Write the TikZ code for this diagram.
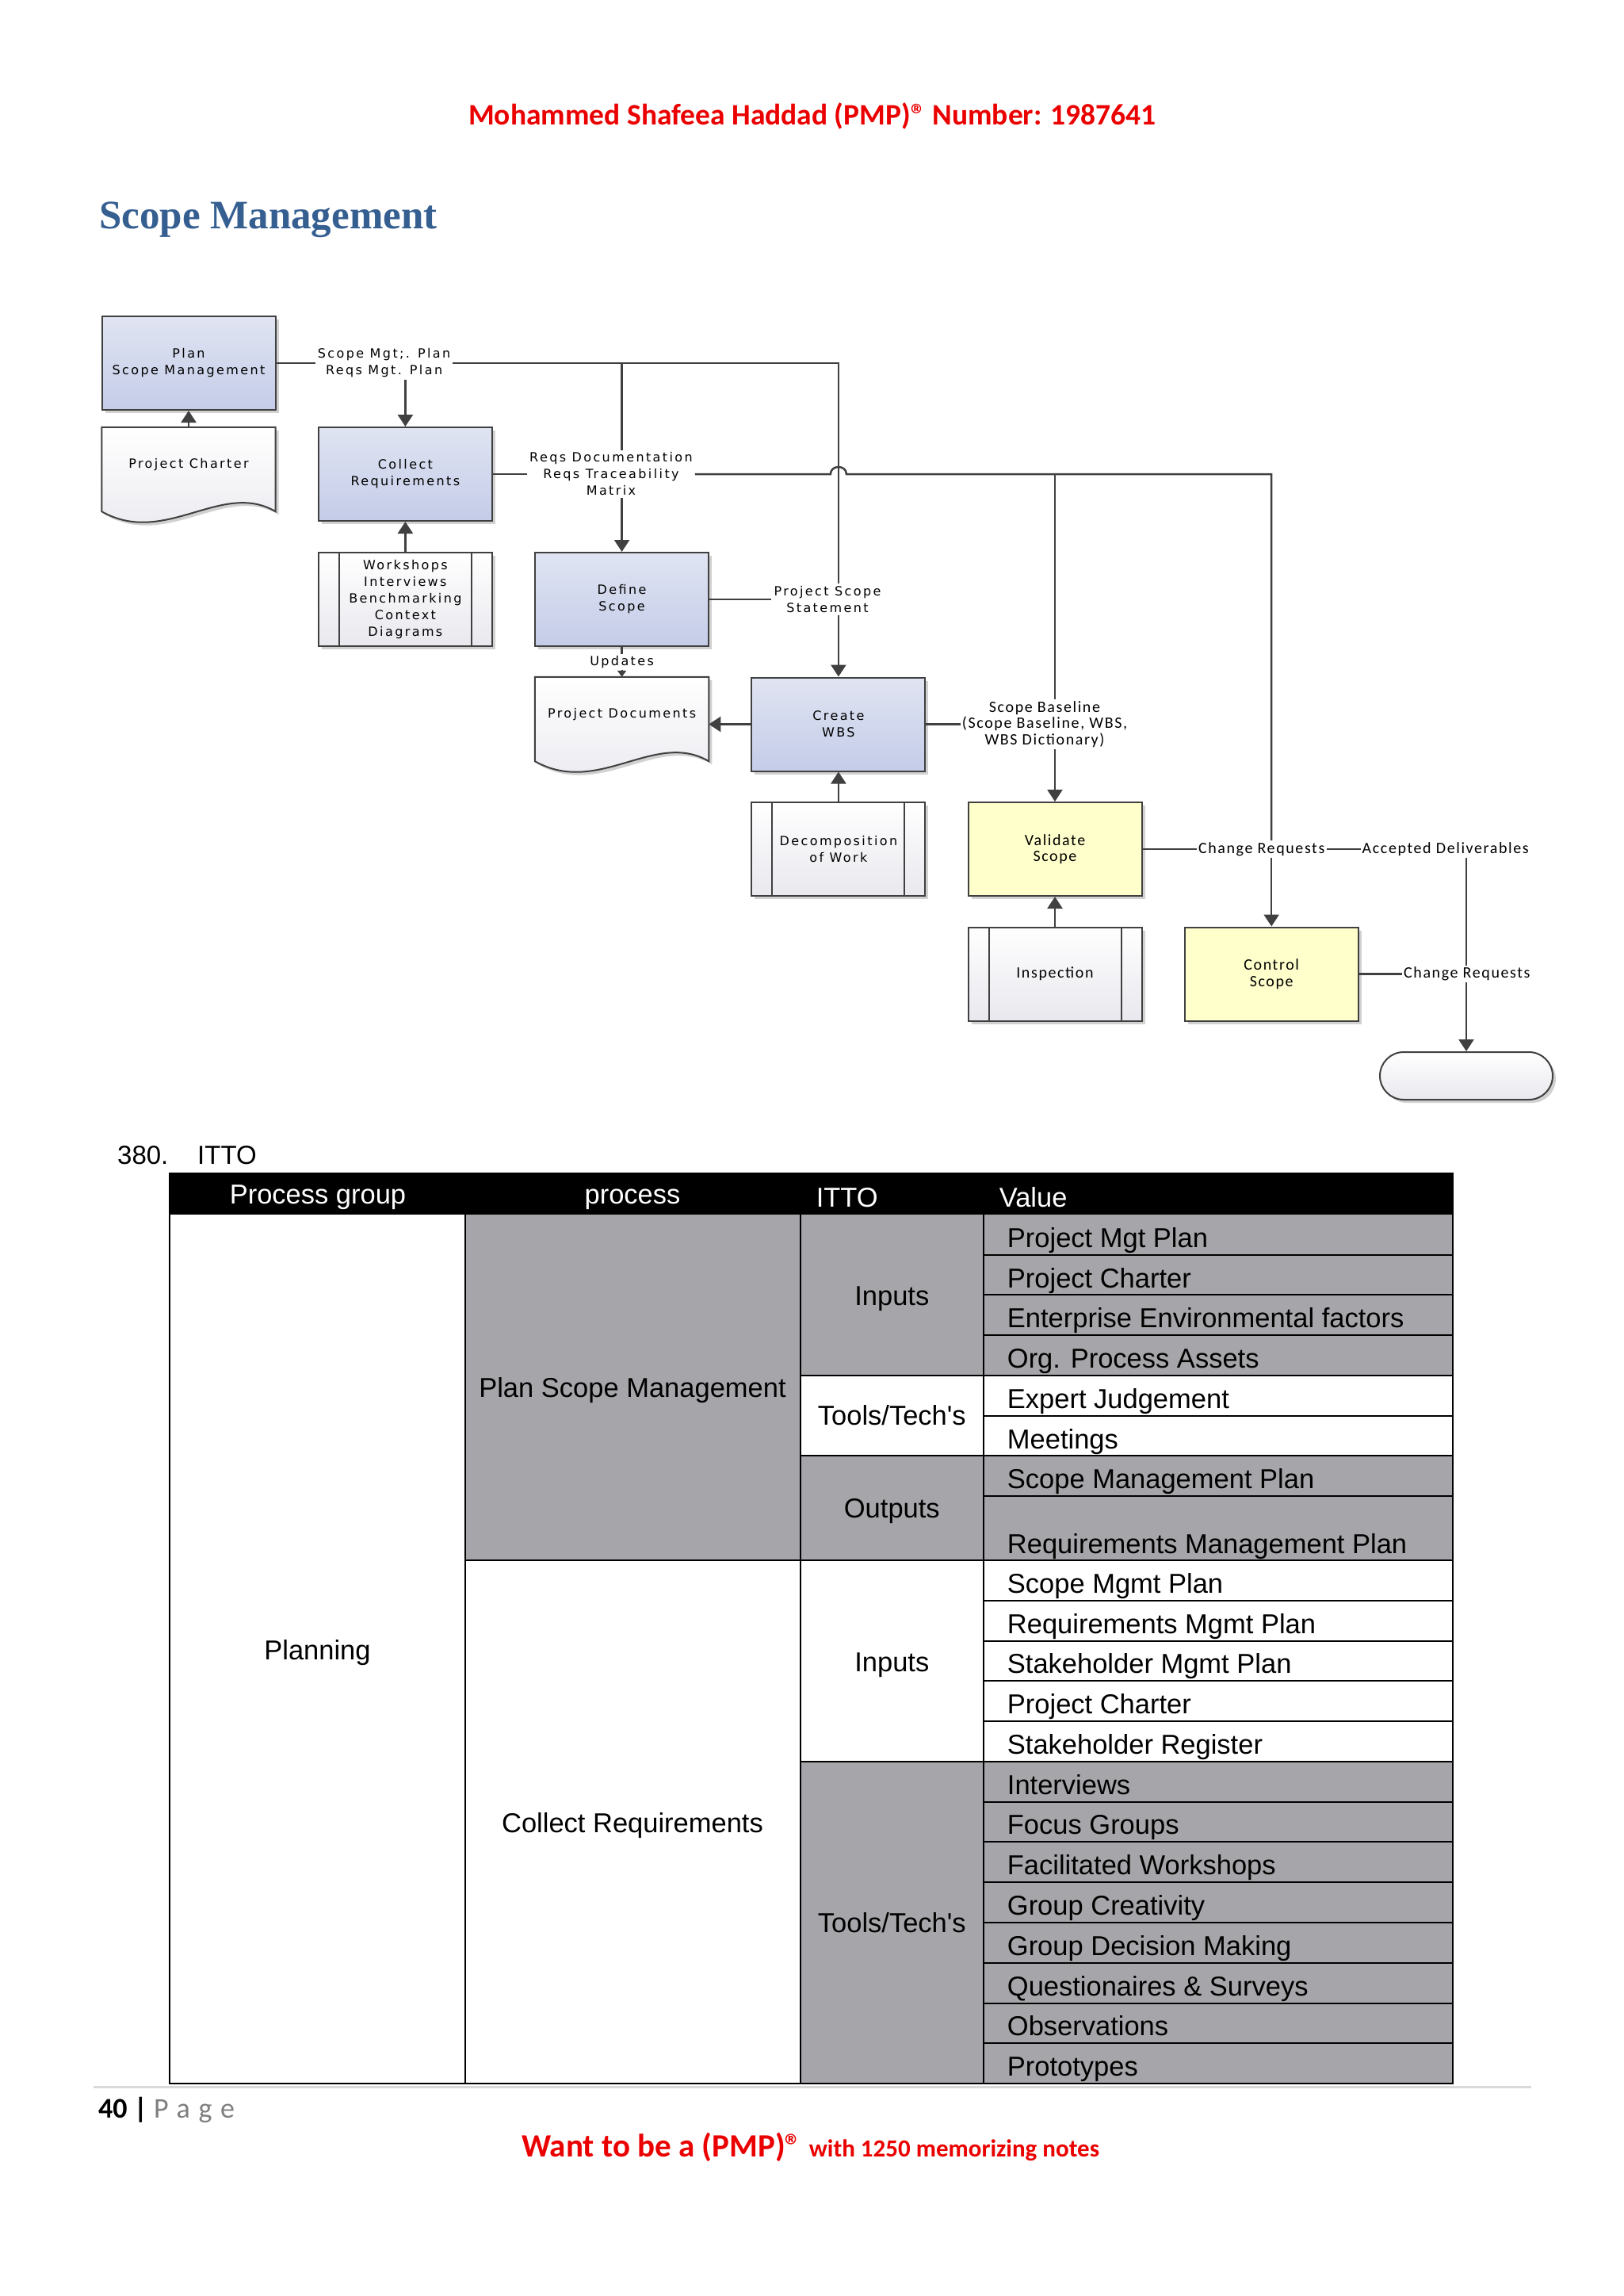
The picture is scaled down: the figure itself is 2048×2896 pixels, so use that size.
\documentclass[tikz,border=0pt]{standalone}
\usepackage{fontspec}
\setmainfont{Liberation Sans}
\newfontfamily\visfont[LetterSpace=15]{DejaVu Sans}
\newfontfamily\calfont[LetterSpace=8]{Carlito}
\newfontfamily\carlfont{Carlito}
\newfontfamily\pagefont[LetterSpace=30]{Carlito}
\newfontfamily\titlefont{Liberation Serif}
\usetikzlibrary{arrows.meta,shadows,calc}
\definecolor{hdrred}{RGB}{235,0,0}
\definecolor{titleblue}{RGB}{54,95,145}
\definecolor{lineclr}{RGB}{64,64,64}
\definecolor{boxtop}{RGB}{224,228,242}
\definecolor{boxbot}{RGB}{196,204,232}
\definecolor{toolbot}{RGB}{232,232,238}
\definecolor{yel}{RGB}{255,255,204}
\definecolor{tgray}{RGB}{166,165,169}
\definecolor{rulegray}{RGB}{217,217,217}
\definecolor{pagegray}{RGB}{127,127,127}
\tikzset{
  conn/.style={draw=lineclr, line width=2.5pt},
  arr/.style={conn, -{Triangle[length=15pt,width=19pt]}},
  smallarr/.style={conn, line width=2pt, -{Triangle[length=8pt,width=11pt]}},
  shadowed/.style={drop shadow={shadow xshift=4pt, shadow yshift=-4pt, opacity=0.18, fill=black}},
  boxbase/.style={draw=lineclr, line width=2pt, minimum width=219pt, minimum height=118pt, inner sep=0pt, align=center, shadowed},
  procbox/.style={boxbase, top color=boxtop, bottom color=boxbot, font=\visfont\fontsize{16}{21}\selectfont},
  toolbox/.style={boxbase, top color=white, bottom color=toolbot, font=\visfont\fontsize{16}{21}\selectfont},
  yelbox/.style={boxbase, fill=yel, font=\calfont\fontsize{20}{20.5}\selectfont},
  docnode/.style={minimum width=219pt, minimum height=106pt, inner sep=0pt},
  docshape/.style={draw=lineclr, line width=2pt, top color=white, bottom color=toolbot, shadowed},
  vislabel/.style={font=\visfont\fontsize{16}{21}\selectfont, align=center, inner sep=3pt},
  callabel/.style={font=\calfont\fontsize{20}{20.5}\selectfont, align=center, inner sep=2pt},
  bar/.style={draw=lineclr, line width=2pt},
  tline/.style={draw=black, line width=2pt},
  tabtxt/.style={font=\fontsize{34.5}{40}\selectfont, inner sep=0pt},
  valtxt/.style={tabtxt, anchor=base west},
  ctrtxt/.style={tabtxt, anchor=base},
}
\begin{document}
\begin{tikzpicture}[x=1pt,y=-1pt]
\useasboundingbox (0,0) rectangle (2048,2896);
\fill[white] (0,0) rectangle (2048,2896);

% ---------- page header ----------
\node[anchor=base, inner sep=0pt, text=hdrred, font=\carlfont\bfseries\fontsize{37.5}{40}\selectfont] (hdr) at (1025,157) {Mohammed Shafeea Haddad (PMP)\textregistered\ Number: 1987641};
\node[anchor=base west, inner sep=0pt, text=titleblue, font=\titlefont\bfseries\fontsize{51}{56}\selectfont] (title) at (125,288) {Scope Management};

% ---------- diagram nodes ----------
\node[procbox] (plan) at (238,458) {Plan\\Scope Management};
\node[docnode] (charter) at (238,592) {};
\path[docshape] (charter.north west) -- (charter.north east) -- (charter.south east) .. controls +(-68,-40) and +(80,45) .. (charter.south west) -- cycle;
\node[vislabel] (chartertxt) at ($(charter.center)+(0,-6)$) {Project Charter};

\node[procbox] (collect) at (511.4,598) {Collect\\Requirements};
\node[toolbox] (ws) at (511.4,756) {Workshops\\Interviews\\Benchmarking\\Context\\Diagrams};
\draw[bar] ([xshift=27pt]ws.north west) -- ([xshift=27pt]ws.south west);
\draw[bar] ([xshift=-27pt]ws.north east) -- ([xshift=-27pt]ws.south east);

\node[procbox] (define) at (784.6,756) {Define\\Scope};
\node[docnode] (pd) at (784.6,907) {};
\path[docshape] (pd.north west) -- (pd.north east) -- (pd.south east) .. controls +(-68,-40) and +(80,45) .. (pd.south west) -- cycle;
\node[vislabel] (pdtxt) at ($(pd.center)+(0,-6)$) {Project Documents};

\node[procbox] (wbs) at (1057.9,913.5) {Create\\WBS};
\node[toolbox] (decomp) at (1057.9,1071) {Decomposition\\of Work};
\draw[bar] ([xshift=27pt]decomp.north west) -- ([xshift=27pt]decomp.south west);
\draw[bar] ([xshift=-27pt]decomp.north east) -- ([xshift=-27pt]decomp.south east);

\node[yelbox] (validate) at (1331,1071) {Validate\\Scope};
\node[toolbox, font=\calfont\fontsize{20}{20.5}\selectfont] (insp) at (1331,1228.5) {Inspection};
\draw[bar] ([xshift=27pt]insp.north west) -- ([xshift=27pt]insp.south west);
\draw[bar] ([xshift=-27pt]insp.north east) -- ([xshift=-27pt]insp.south east);

\node[yelbox] (control) at (1604.2,1228.5) {Control\\Scope};
\node[draw=lineclr, line width=2pt, rounded corners=30pt, minimum width=218pt, minimum height=60pt, top color=white, bottom color=toolbot, shadowed] (term) at (1850,1357) {};

% ---------- labels ----------
\node[vislabel] (lab1) at (484.6,458) {Scope Mgt;. Plan\\Reqs Mgt. Plan};
\node[vislabel] (lab2) at (771,598) {Reqs Documentation\\Reqs Traceability\\Matrix};
\node[vislabel] (lab3) at (1044,756) {Project Scope\\Statement};
\node[vislabel, inner sep=2pt] (upd) at (784.6,835) {Updates};
\node[callabel] (lab4) at (1318,913.5) {Scope Baseline\\(Scope Baseline, WBS,\\WBS Dictionary)};
\node[callabel] (cr1) at (1591.7,1071) {Change Requests};
\node[callabel] (ad) at (1823.7,1071) {Accepted Deliverables};
\node[callabel] (cr2) at (1850.8,1228.5) {Change Requests};

% ---------- connectors ----------
\draw[arr] (charter.north) -- (plan.south);
\draw[arr] (ws.north) -- (collect.south);
\draw[conn] (plan.east) -- (lab1.west);
\draw[conn] (lab1.east) -- (wbs.north |- plan.east) -- (wbs.north |- lab3.north);
\draw[arr] (collect.north |- lab1.south) -- (collect.north);
\draw[conn] (define.north |- plan.east) -- (define.north |- lab2.north);
\draw[arr] (define.north |- lab2.south) -- (define.north);
\draw[conn] (collect.east) -- (lab2.west);
\draw[conn] (lab2.east) -- ($(wbs.north |- lab2.east)+(-10,0)$) .. controls +(0,-12) and +(0,-12) .. ($(wbs.north |- lab2.east)+(10,0)$) -- (control.north |- lab2.east) -- (control.north |- cr1.north);
\draw[conn] (validate.north |- lab2.east) -- (validate.north |- lab4.north);
\draw[arr] (validate.north |- lab4.south) -- (validate.north);
\draw[conn] (define.east) -- (lab3.west);
\draw[arr] (wbs.north |- lab3.south) -- (wbs.north);
\draw[conn] (define.south) -- (upd.north);
\draw[smallarr] (upd.south) -- (pd.north);
\draw[arr] (wbs.west) -- (pd.east |- wbs.west);
\draw[arr] (decomp.north) -- (wbs.south);
\draw[conn] (wbs.east) -- (lab4.west);
\draw[arr] (insp.north) -- (validate.south);
\draw[conn] (validate.east) -- (cr1.west);
\draw[conn] (cr1.east) -- (ad.west);
\draw[arr] (control.north |- cr1.south) -- (control.north);
\draw[conn] (term.north |- ad.south) -- (term.north |- cr2.north);
\draw[arr] (term.north |- cr2.south) -- (term.north);
\draw[conn] (control.east) -- (cr2.west);

% ---------- ITTO table ----------
\node[anchor=base west, inner sep=0pt, font=\fontsize{33}{38}\selectfont] (num) at (148,1468) {380.};
\node[anchor=base west, inner sep=0pt, font=\fontsize{33}{38}\selectfont] (itto) at (249,1468) {ITTO};

\fill[black] (214.4,1480) rectangle (1833,1532);
\fill[tgray] (586.5,1532) rectangle (1009.5,1968);
\fill[tgray] (1009.5,1532) rectangle (1833,1734.8);
\fill[tgray] (1009.5,1836.2) rectangle (1833,1968);
\fill[tgray] (1009.5,2221.85) rectangle (1833,2628);

\draw[tline] (214.4,1480) rectangle (1833,2628);
\draw[tline] (586.5,1532) -- (586.5,2628);
\draw[tline] (1009.5,1532) -- (1009.5,2628);
\draw[tline] (1241,1532) -- (1241,2628);
\draw[tline] (586.5,1968) -- (1833,1968);
\draw[tline] (1009.5,1734.8) -- (1241,1734.8);
\draw[tline] (1009.5,1836.2) -- (1241,1836.2);
\draw[tline] (1009.5,2221.85) -- (1241,2221.85);
\foreach \yy in {1582.7,1633.4,1684.1,1734.8,1785.5,1836.2,1886.9}
  \draw[tline] (1241,\yy) -- (1833,\yy);
\foreach \yy in {2018.77,2069.54,2120.31,2171.08,2221.85,2272.62,2323.39,2374.16,2424.93,2475.7,2526.47,2577.24}
  \draw[tline] (1241,\yy) -- (1833,\yy);

\node[ctrtxt, text=white] (hpg) at (401,1518) {Process group};
\node[ctrtxt, text=white] (hpr) at (798,1518) {process};
\node[valtxt, text=white] (hit) at (1029.6,1522) {ITTO};
\node[valtxt, text=white] (hva) at (1260.6,1522) {Value};

\node[ctrtxt] (pgrp) at (400.5,2093) {Planning};
\node[ctrtxt] (p1) at (798,1762) {Plan Scope Management};
\node[ctrtxt] (p2) at (798,2311) {Collect Requirements};
\node[ctrtxt] (i1) at (1125.3,1646) {Inputs};
\node[ctrtxt] (t1) at (1125.3,1797) {Tools/Tech\textquotesingle s};
\node[ctrtxt] (o1) at (1125.3,1914) {Outputs};
\node[ctrtxt] (i2) at (1125.3,2108) {Inputs};
\node[ctrtxt] (t2) at (1125.3,2437) {Tools/Tech\textquotesingle s};

\node[valtxt] (v1) at (1270.7,1573.5) {Project Mgt Plan};
\node[valtxt] (v2) at (1270.7,1624.2) {Project Charter};
\node[valtxt] (v3) at (1270.7,1674.9) {Enterprise Environmental factors};
\node[valtxt] (v4) at (1270.7,1725.6) {Org. Process Assets};
\node[valtxt] (v5) at (1270.7,1776.3) {Expert Judgement};
\node[valtxt] (v6) at (1270.7,1827) {Meetings};
\node[valtxt] (v7) at (1270.7,1877.7) {Scope Management Plan};
\node[valtxt] (v8) at (1270.7,1959) {Requirements Management Plan};
\node[valtxt] (c1) at (1270.7,2009.3) {Scope Mgmt Plan};
\node[valtxt] (c2) at (1270.7,2060) {Requirements Mgmt Plan};
\node[valtxt] (c3) at (1270.7,2110.8) {Stakeholder Mgmt Plan};
\node[valtxt] (c4) at (1270.7,2161.6) {Project Charter};
\node[valtxt] (c5) at (1270.7,2212.4) {Stakeholder Register};
\node[valtxt] (c6) at (1270.7,2263.1) {Interviews};
\node[valtxt] (c7) at (1270.7,2313.9) {Focus Groups};
\node[valtxt] (c8) at (1270.7,2364.7) {Facilitated Workshops};
\node[valtxt] (c9) at (1270.7,2415.4) {Group Creativity};
\node[valtxt] (c10) at (1270.7,2466.2) {Group Decision Making};
\node[valtxt] (c11) at (1270.7,2517) {Questionaires \& Surveys};
\node[valtxt] (c12) at (1270.7,2567.7) {Observations};
\node[valtxt] (c13) at (1270.7,2618.5) {Prototypes};

% ---------- footer ----------
\draw[rulegray, line width=3pt] (118,2632) -- (1932,2632);
\node[anchor=base west, inner sep=0pt, font=\carlfont\fontsize{36}{40}\selectfont] (pgnum) at (124,2671.7) {\textbf{40 |} \textcolor{pagegray}{\pagefont Page}};
\node[anchor=base west, inner sep=0pt, text=hdrred, font=\carlfont\bfseries\fontsize{41}{44}\selectfont] (promo) at (658,2720) {Want to be a (PMP)\textregistered\ {\fontsize{31}{34}\selectfont with 1250 memorizing notes}};
\end{tikzpicture}
\end{document}
